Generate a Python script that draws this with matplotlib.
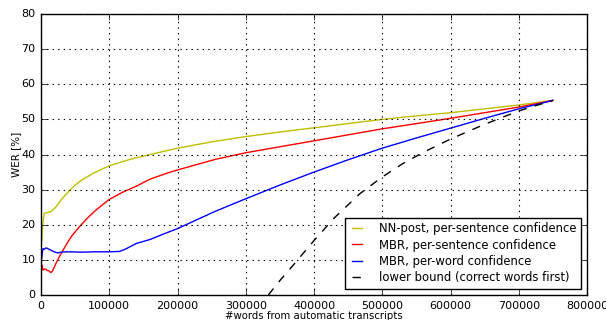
import matplotlib
matplotlib.use("Agg")
import matplotlib.pyplot as plt

# NN-post, per-sentence confidence
nn_x = [1000, 3000, 5000, 10000, 15000, 22000, 30000, 40000, 50000, 60000, 80000,
        100000, 130000, 160000, 200000, 250000, 300000, 350000, 400000, 450000, 500000,
        550000, 600000, 650000, 700000, 750000]
nn_y = [15.2, 21.0, 23.3, 23.5, 23.8, 25.1, 27.2, 29.4, 31.3, 32.8, 35.0,
        36.8, 38.6, 40.0, 41.8, 43.6, 45.1, 46.4, 47.6, 48.8, 50.0,
        51.0, 51.9, 53.0, 54.1, 55.4]

# MBR, per-sentence confidence
mbrs_x = [1000, 1500, 3000, 5000, 7300, 9000, 11200, 13000, 14600, 17000, 20000, 24400,
          30000, 36600, 45000, 56200, 68000, 80600, 100000, 120000, 137700, 160000, 186500,
          200000, 255000, 300000, 350000, 400000, 450000, 500000, 550000, 600000, 650000,
          700000, 750000]
mbrs_y = [7.5, 8.5, 7.1, 7.4, 7.3, 7.0, 6.9, 6.6, 6.4, 6.9, 8.2, 10.0,
          12.0, 14.2, 16.8, 19.4, 21.9, 24.2, 27.2, 29.3, 30.8, 33.0, 34.8,
          35.6, 38.6, 40.5, 42.2, 43.9, 45.6, 47.3, 48.8, 50.3, 51.9,
          53.5, 55.4]

# MBR, per-word confidence
mbrw_x = [1000, 2000, 3000, 5000, 7000, 9000, 11000, 14000, 18000, 22000, 25000, 30000,
          40000, 60000, 80000, 100000, 115000, 123000, 140000, 159700, 180000, 200000,
          255000, 300000, 350000, 400000, 450000, 500000, 550000, 600000, 650000,
          700000, 750000]
mbrw_y = [10.4, 12.2, 13.2, 13.0, 13.4, 13.3, 13.1, 12.8, 12.4, 12.1, 12.0, 12.2,
          12.3, 12.2, 12.3, 12.3, 12.4, 13.0, 14.7, 15.8, 17.4, 18.9,
          23.8, 27.4, 31.3, 35.0, 38.5, 41.8, 44.7, 47.5, 50.3,
          53.0, 55.4]

# lower bound (correct words first)
lb_x = [333000, 350000, 370000, 400000, 430000, 467000, 500000, 530000, 560000,
        600000, 650000, 700000, 750000]
lb_y = [0.0, 4.1, 8.6, 15.5, 22.0, 28.8, 33.6, 37.4, 40.6,
        44.4, 48.6, 52.4, 55.4]

labels = ["NN-post, per-sentence confidence", "MBR, per-sentence confidence",
          "MBR, per-word confidence", "lower bound (correct words first)"]
xticks = [0, 100000, 200000, 300000, 400000, 500000, 600000, 700000, 800000]
yticks = [0, 10, 20, 30, 40, 50, 60, 70, 80]

plt.style.use("classic")
fig = plt.figure(figsize=(6.06, 3.2), dpi=100)
fig.patch.set_facecolor("white")
ax = fig.add_axes([41/606, 25/320, 546/606, 281/320])

ax.plot(nn_x, nn_y, color=(0.75, 0.75, 0), lw=1, label=labels[0])
ax.plot(mbrs_x, mbrs_y, color="r", lw=1, label=labels[1])
ax.plot(mbrw_x, mbrw_y, color="b", lw=1, label=labels[2])
ax.plot(lb_x, lb_y, "k--", lw=1, label=labels[3])

ax.set_xlim(0, 800000)
ax.set_ylim(0, 80)
ax.set_xticks(xticks)
ax.set_yticks(yticks)
ax.set_xticklabels([str(t) for t in xticks], fontsize=8)
ax.set_yticklabels([str(t) for t in yticks], fontsize=8)
ax.grid(True, color="k", linestyle=":", lw=0.8)
ax.set_xlabel("#words from automatic transcripts", fontsize=7.3, labelpad=0)
ax.set_ylabel("WER [%]", fontsize=7.5, labelpad=0)
leg = ax.legend(loc="lower right", fontsize=8.4, handlelength=1.45, numpoints=2,
                borderaxespad=0.55, labelspacing=0.3, handletextpad=1.15,
                borderpad=0.35)
leg.get_frame().set_edgecolor("k")
fig.savefig("out.png", dpi=100, facecolor="white")
